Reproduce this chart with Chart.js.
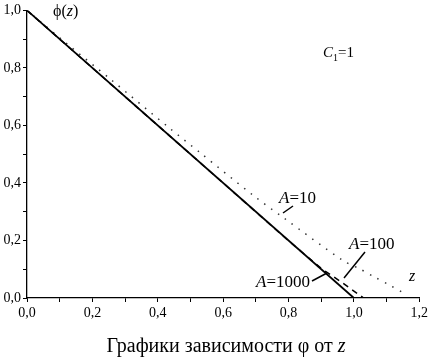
<!DOCTYPE html>
<html>
<head>
<meta charset="utf-8">
<script src="https://cdn.jsdelivr.net/npm/chart.js@4.4.1/dist/chart.umd.min.js"></script>
<style>
  body { margin: 0; background: #fff; }
</style>
</head>
<body>
<canvas id="chart" width="431" height="357"></canvas>
<script>
// A=1000 (solid)
const zSolid = [0, 1.0];
const phiSolid = [1, 0];

// A=100 (dashed)
const zDashed = [0, 0.6, 0.8, 0.9, 0.961, 1.0, 1.03];
const phiDashed = [1, 0.4, 0.199, 0.103, 0.056, 0.024, 0];

// A=10 (dotted)
const zDotted = [0, 0.12, 0.255, 0.44, 0.531, 0.693, 0.786, 0.967, 1.017, 1.063, 1.109, 1.155];
const phiDotted = [1, 0.886, 0.761, 0.587, 0.504, 0.356, 0.278, 0.130, 0.102, 0.073, 0.045, 0.016];

const xTicks = [0, 0.2, 0.4, 0.6, 0.8, 1.0, 1.2];
const yTicks = [0, 0.2, 0.4, 0.6, 0.8, 1.0];

function toPoints(xs, ys) {
    const pts = [];
    for (let i = 0; i < xs.length; i++) {
        pts.push({ x: xs[i], y: ys[i] });
    }
    return pts;
}

function fmt(v) {
    return v.toFixed(1).replace('.', ',');
}

function isMajor(v, list) {
    return list.some(t => Math.abs(t - v) < 1e-6);
}

const SERIF = '"Liberation Serif", "Times New Roman", serif';

// draws a run of text pieces, some italic, left to right
function drawParts(ctx, parts, x, y, size) {
    let cx = x;
    for (const p of parts) {
        const s = p.size || size;
        ctx.font = (p.it ? 'italic ' : '') + s + 'px ' + SERIF;
        ctx.fillText(p.t, cx, y + (p.dy || 0));
        cx += ctx.measureText(p.t).width + (p.gap || 0);
    }
    return cx - x;
}

function measureParts(ctx, parts, size) {
    let w = 0;
    for (const p of parts) {
        ctx.font = (p.it ? 'italic ' : '') + (p.size || size) + 'px ' + SERIF;
        w += ctx.measureText(p.t).width + (p.gap || 0);
    }
    return w;
}

function line(ctx, x1, y1, x2, y2) {
    ctx.beginPath();
    ctx.moveTo(x1, y1);
    ctx.lineTo(x2, y2);
    ctx.stroke();
}

const annotate = {
    id: 'annotate',
    afterDraw(chart) {
        const ctx = chart.ctx;
        ctx.save();
        ctx.fillStyle = '#000';
        ctx.strokeStyle = '#000';
        ctx.textBaseline = 'alphabetic';
        ctx.textAlign = 'left';

        drawParts(ctx, [{ t: 'ϕ(' }, { t: 'z', it: true }, { t: ')' }], 53, 16, 16);

        drawParts(ctx, [{ t: 'C', it: true }, { t: '1', size: 10, dy: 4 }, { t: '=1' }], 323, 57, 15);

        drawParts(ctx, [{ t: 'A', it: true }, { t: '=10' }], 279, 203, 17);
        drawParts(ctx, [{ t: 'A', it: true }, { t: '=100' }], 349, 249, 17);
        drawParts(ctx, [{ t: 'A', it: true }, { t: '=1000' }], 256, 287, 17);
        drawParts(ctx, [{ t: 'z', it: true }], 409, 281, 16);

        ctx.lineWidth = 1.5;
        line(ctx, 293, 206, 283, 213);
        line(ctx, 365, 252, 344, 278);
        line(ctx, 312, 281, 327, 273);

        // bottom caption
        const cap = [{ t: 'Графики зависимости φ от ' }, { t: 'z', it: true }];
        const w = measureParts(ctx, cap, 20);
        drawParts(ctx, cap, 226 - w / 2, 352, 20);

        ctx.restore();
    }
};

const ctx = document.getElementById('chart').getContext('2d');

new Chart(ctx, {
    type: 'scatter',
    data: {
        datasets: [
            {
                label: 'A=1000',
                data: toPoints(zSolid, phiSolid),
                showLine: true,
                borderColor: '#000',
                borderWidth: 1.8,
                pointRadius: 0
            },
            {
                label: 'A=100',
                data: toPoints(zDashed, phiDashed),
                showLine: true,
                borderColor: '#000',
                borderWidth: 1.5,
                borderDash: [6, 5],
                pointRadius: 0
            },
            {
                label: 'A=10',
                data: toPoints(zDotted, phiDotted),
                showLine: true,
                tension: 0.3,
                borderColor: '#333',
                borderWidth: 1.5,
                borderDash: [1.5, 7],
                pointRadius: 0
            }
        ]
    },
    plugins: [annotate],
    options: {
        responsive: false,
        devicePixelRatio: 1,
        animation: false,
        layout: {
            autoPadding: false,
            padding: { top: 6, right: 9, left: 0, bottom: 0 }
        },
        plugins: {
            legend: { display: false },
            tooltip: { enabled: false }
        },
        scales: {
            x: {
                type: 'linear',
                min: 0,
                max: 1.2,
                afterFit: (s) => { s.height = 59; },
                border: { display: true, color: '#000', width: 1.3 },
                grid: { drawOnChartArea: false, drawTicks: true, tickLength: 4, color: '#000' },
                ticks: {
                    stepSize: 0.1,
                    padding: 3,
                    color: '#000',
                    maxRotation: 0,
                    autoSkip: false,
                    font: { family: SERIF, size: 14 },
                    callback: (v) => isMajor(v, xTicks) ? fmt(v) : ''
                }
            },
            y: {
                type: 'linear',
                min: 0,
                max: 1,
                afterFit: (s) => { s.width = 27; },
                border: { display: true, color: '#000', width: 1.3 },
                grid: { drawOnChartArea: false, drawTicks: true, tickLength: 4, color: '#000' },
                ticks: {
                    stepSize: 0.1,
                    padding: 2,
                    color: '#000',
                    autoSkip: false,
                    font: { family: SERIF, size: 14 },
                    callback: (v) => isMajor(v, yTicks) ? fmt(v) : ''
                }
            }
        }
    }
});
</script>
</body>
</html>
